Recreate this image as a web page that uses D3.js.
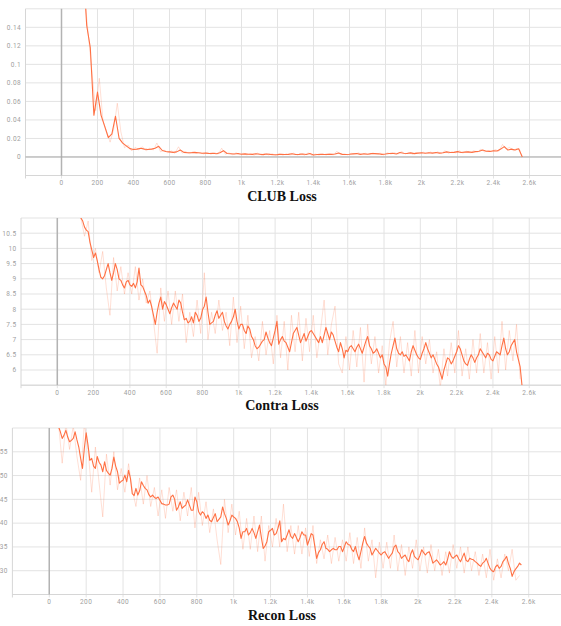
<!DOCTYPE html>
<html><head><meta charset="utf-8">
<script src="https://cdn.jsdelivr.net/npm/d3@7/dist/d3.min.js"></script>
<style>body{margin:0;background:#fff}svg{display:block}</style>
</head><body><svg id="c" width="561" height="626"></svg>
<script>
// ---------- data ----------
const CLUB_STEP = 20;       // clubLoss: steps 0,20,...,2560
const FINE_STEP = 10;       // contraLoss / reconLoss: steps 0,10,...,2560
const RAW_STEP = 20, RAW_OFFSET = 10;   // raw series: steps 10,30,...,2550
const xTickValues = [0,200,400,600,800,1000,1200,1400,1600,1800,2000,2200,2400,2600];
const xTickLabels = ["0","200","400","600","800","1k","1.2k","1.4k","1.6k","1.8k","2k","2.2k","2.4k","2.6k"];

const clubTicks = [-0.02,0,0.02,0.04,0.06,0.08,0.1,0.12,0.14,0.16];
const clubTickLabels = ["","0","0.02","0.04","0.06","0.08","0.1","0.12","0.14",""];
const contraTicks = [5.5,6,6.5,7,7.5,8,8.5,9,9.5,10,10.5,11];
const contraTickLabels = ["","6","6.5","7","7.5","8","8.5","9","9.5","10","10.5",""];
const reconTicks = [25,30,35,40,45,50,55,60];
const reconTickLabels = ["","30","35","40","45","50","55",""];

const clubLoss = [
0.60,0.55,0.48,0.42,0.35,0.28,0.21,0.142,0.118,0.045,
0.07,0.045,0.033,0.021,0.025,0.044,0.020,0.015,0.012,0.009,
0.008,0.0085,0.0095,0.0085,0.008,0.0085,0.0095,0.0115,0.007,0.006,
0.0055,0.005,0.0055,0.0075,0.005,0.0045,0.0045,0.005,0.0045,0.004,
0.0042,0.0038,0.004,0.0035,0.0045,0.0068,0.0038,0.0035,0.0032,0.0038,
0.003,0.0033,0.003,0.0028,0.0035,0.003,0.0025,0.0033,0.0028,0.0024,
0.0025,0.003,0.0026,0.0028,0.0035,0.0026,0.0028,0.0032,0.0027,0.0038,
0.0022,0.0026,0.0028,0.0027,0.003,0.0028,0.0032,0.0042,0.0028,0.0027,
0.003,0.0034,0.0038,0.0028,0.0034,0.003,0.0036,0.0038,0.0034,0.0028,
0.0032,0.0038,0.004,0.0033,0.0048,0.004,0.0038,0.0044,0.0036,0.0042,
0.0045,0.004,0.0046,0.0042,0.0048,0.0042,0.0045,0.0055,0.0048,0.005,
0.0058,0.0048,0.0052,0.0055,0.005,0.0058,0.0062,0.0075,0.0062,0.006,
0.0068,0.0065,0.0085,0.0112,0.0075,0.0085,0.0075,0.0088,0.0];
const clubRaw = [
0.62,0.5,0.46,0.4,0.3,0.26,0.17,0.13,0.09,0.05,
0.085,0.04,0.028,0.016,0.03,0.058,0.027,0.01,0.013,0.0065,
0.0105,0.0075,0.011,0.0065,0.0095,0.0075,0.015,0.0055,0.0075,0.0045,
0.0065,0.004,0.011,0.0042,0.0058,0.0035,0.0055,0.0038,0.005,0.0032,
0.005,0.003,0.0048,0.003,0.0095,0.003,0.0045,0.0025,0.0045,0.0025,
0.004,0.0022,0.0038,0.002,0.0042,0.0022,0.0038,0.0022,0.0035,0.0018,
0.0036,0.002,0.0035,0.0022,0.0042,0.002,0.0036,0.002,0.0045,0.0018,
0.0032,0.002,0.0035,0.0022,0.0036,0.0022,0.0062,0.0022,0.0035,0.0022,
0.004,0.0028,0.0045,0.0025,0.004,0.0025,0.0044,0.0028,0.0042,0.0022,
0.0045,0.0032,0.0046,0.0032,0.006,0.0032,0.005,0.003,0.005,0.0035,
0.0052,0.0035,0.0054,0.0036,0.0056,0.0036,0.0068,0.004,0.0058,0.0044,
0.0068,0.0042,0.0062,0.0044,0.0068,0.0052,0.0085,0.0055,0.007,0.0058,
0.008,0.0062,0.0135,0.0085,0.0105,0.0065,0.0095,0.0065];

const contraLoss = [
13,12.9,12.8,12.6,12.5,12.4,12.3,12.1,12.0,11.9,11.8,11.5,11.3,11.0,10.9,10.7,10.6,10.55,10.2,9.95,
9.7,9.85,9.6,9.3,9.05,9.0,9.1,9.3,9.5,9.2,8.95,9.2,9.5,9.3,9.0,8.95,8.8,8.7,8.9,8.95,
8.8,8.75,8.85,8.7,8.9,9.35,8.8,8.75,8.6,8.45,8.2,8.3,8.08,7.8,7.5,7.9,8.2,8.4,8.0,8.25,
8.15,8.0,7.85,8.05,8.2,8.1,8.0,8.3,8.2,7.9,7.65,7.7,7.55,7.6,7.75,7.55,7.9,7.8,7.6,7.7,
7.98,8.1,8.4,7.9,7.5,7.55,7.6,7.8,7.95,7.7,7.8,7.9,7.6,7.45,7.35,7.5,7.6,7.75,8.0,7.6,
7.35,7.5,7.5,7.3,7.2,7.45,7.35,7.1,7.0,6.8,6.7,6.75,6.85,6.95,7.0,7.25,7.05,6.9,6.8,7.05,
7.3,7.6,6.85,7.0,7.1,6.95,6.9,6.75,6.6,6.9,7.2,7.3,7.4,7.15,6.9,7.05,7.2,6.95,7.1,7.25,
7.3,7.2,7.1,7.0,6.9,7.1,6.9,7.15,7.4,7.2,7.0,7.25,7.15,6.95,6.75,6.6,6.9,6.7,6.4,6.65,
6.6,6.75,6.8,6.7,6.6,6.75,6.85,6.7,6.55,6.75,6.95,7.1,6.8,6.7,6.55,6.6,6.7,6.55,6.4,6.5,
6.2,6.1,5.8,6.2,6.55,6.8,7.05,6.7,6.55,6.5,6.6,6.45,6.5,6.4,6.3,6.6,6.8,6.65,6.5,6.4,
6.35,6.55,6.7,6.9,6.7,6.55,6.4,6.5,6.35,6.2,6.1,5.9,5.7,6.0,6.2,6.4,6.35,6.2,6.3,6.45,
6.6,6.8,6.7,6.5,6.3,6.2,6.15,6.35,6.5,6.4,6.25,6.4,6.5,6.7,6.6,6.5,6.4,6.55,6.5,6.35,
6.3,6.45,6.6,6.55,6.5,6.8,7.05,6.7,6.5,6.6,6.8,6.9,7.0,6.6,6.35,6.1,5.5];
const contraRaw = [
13.2,12.6,12.7,12.0,12.2,11.5,11.0,10.4,10.9,9.6,
10.0,9.2,9.9,8.7,7.8,9.7,8.6,9.4,8.5,9.2,
8.5,9.4,8.3,9.0,8.2,8.6,7.6,6.55,8.7,7.6,
8.6,7.5,8.6,7.6,8.5,6.9,7.9,7.1,8.3,7.2,
9.2,7.0,7.9,7.2,8.3,7.3,7.9,6.8,8.4,6.9,
8.1,6.7,7.8,6.4,7.1,6.3,7.6,6.5,7.3,6.2,
7.8,6.4,7.6,6.0,7.8,6.6,7.9,6.3,7.7,6.6,
7.8,6.4,7.3,8.3,6.5,7.5,8.1,6.2,5.9,7.1,
6.0,7.3,6.1,7.4,5.6,7.5,6.2,7.1,5.9,6.8,
5.5,6.9,7.6,6.1,7.1,5.9,6.9,5.8,7.3,5.9,
7.1,6.2,7.0,5.9,6.6,5.4,6.7,5.8,6.9,5.9,
7.3,5.8,6.7,5.7,7.0,5.9,7.2,5.9,6.9,5.7,
7.1,5.9,7.6,6.0,7.3,6.3,7.5,5.7];

const reconLoss = [
66,64.5,63,62,60.8,60.3,59.2,57.8,58.5,59.5,58.1,57.1,57.4,57.8,59.2,57.5,56.0,53.6,51.5,55.7,
59.0,56.4,53.2,53.6,52.0,51.5,54.0,52.8,52.2,50.8,52.9,51.1,50.5,50.1,51.5,53.9,52.0,50.8,48.4,48.8,
49.0,50.1,48.7,51.1,49.4,46.2,45.8,47.3,45.9,46.8,48.7,47.9,47.3,47.0,46.0,45.5,45.9,45.4,45.2,45.5,
44.8,44.1,44.0,43.8,43.8,44.0,45.5,45.9,45.0,42.7,43.4,44.5,43.1,43.5,43.8,44.9,43.8,42.7,42.7,45.5,
44.5,42.4,41.7,42.4,42.0,41.0,41.7,40.6,40.3,41.2,42.0,40.3,40.8,41.3,43.4,42.0,41.0,39.6,40.5,41.7,
41.3,41.0,40.3,39.0,36.8,38.2,38.2,38.9,37.5,38.0,38.9,38.0,36.8,38.2,39.6,37.0,34.7,35.2,36.1,38.2,
38.5,38.9,37.5,37.8,38.9,40.5,36.1,36.8,36.5,37.5,38.6,37.2,36.8,37.8,37.0,36.1,37.0,38.2,37.5,37.5,
35.4,36.5,37.8,37.5,35.1,32.6,33.8,34.4,35.5,36.1,34.7,34.5,34.0,34.4,34.7,34.4,34.4,35.1,35.1,34.0,
35.0,36.1,35.5,35.4,34.5,34.0,35.1,33.5,32.3,34.0,35.8,37.2,35.8,35.2,34.7,33.3,34.0,34.7,34.2,33.7,
33.3,33.8,34.0,33.3,32.6,33.2,33.7,35.0,35.4,34.0,33.6,32.6,33.0,33.3,32.4,31.9,33.5,34.4,33.0,32.6,
32.3,33.2,34.4,33.8,33.3,33.8,34.0,33.0,31.6,31.9,32.3,31.8,31.2,31.5,31.9,31.2,32.4,34.0,33.0,32.6,
33.0,33.3,32.5,31.9,32.8,33.7,32.2,31.9,32.6,32.4,32.3,31.9,31.6,31.2,30.9,31.6,31.9,32.6,31.5,30.5,
30.0,29.8,30.8,31.2,30.5,30.9,31.9,32.4,33.0,31.5,30.5,28.8,29.8,30.4,30.9,31.6,31.2];
const reconRaw = [
67,62,61,52.6,61,55.5,60.5,54,49,61,
55.5,46.5,56,48.5,41.3,54.5,48,55,47,51.5,
46.5,52.5,47,43.5,49.5,44,50,43.5,47.5,41.5,
47,41,47.5,42.5,47,40.5,46.5,41.5,47.5,39,
46.5,39.5,44.5,38,43,36.5,31.3,45,38,44,
37.5,42.5,34.5,41,34.5,41.5,34,41.5,32,39.5,
35,41,35,44,34,39.5,33.5,39.5,33.5,39,
33,39.5,31.5,36.5,32.5,37.5,31.5,37,32,36.5,
32,38,31.5,37,30.5,39,32,36.5,28.5,36,
30.5,36,30.5,37.5,30,35.5,29,35,30.5,36.5,
30,35,29.5,35.5,30,34.5,29,34,29.5,35.5,
30.5,35,29.5,35,30,34,29,33.5,28.5,34.5,
28,32.5,28.5,33.5,30,34.5,28,29];

// ---------- layout ----------
const W = 561;
const LINE = "#ff7043";
const panels = [
  {title:"CLUB Loss", main:clubLoss, step:CLUB_STEP, raw:clubRaw, yDomain:[-0.02,0.16], ticks:clubTicks, labels:clubTickLabels,
   left:25.5, top:8.8, bottom:175.5, titleY:200.5, zero:true},
  {title:"Contra Loss", main:contraLoss, step:FINE_STEP, raw:contraRaw, yDomain:[5.5,11], ticks:contraTicks, labels:contraTickLabels,
   left:21, top:218, bottom:385.2, titleY:409.5, zero:false},
  {title:"Recon Loss", main:reconLoss, step:FINE_STEP, raw:reconRaw, yDomain:[25,60], ticks:reconTicks, labels:reconTickLabels,
   left:12.4, top:428, bottom:594.5, titleY:619.5, zero:false}
];

const svg = d3.select("#c");
const defs = svg.append("defs");

panels.forEach((p, pi) => {
  const x = d3.scaleLinear().domain([-200, 2775]).range([p.left, W]);
  const y = d3.scaleLinear().domain(p.yDomain).range([p.bottom, p.top]);
  const g = svg.append("g");

  g.selectAll("line.hg").data(p.ticks).join("line")
    .attr("x1", p.left).attr("x2", W)
    .attr("y1", d => y(d)).attr("y2", d => y(d))
    .attr("stroke", "#e3e3e3").attr("stroke-width", 1);
  g.selectAll("line.vg").data(xTickValues).join("line")
    .attr("x1", d => x(d)).attr("x2", d => x(d))
    .attr("y1", p.top).attr("y2", p.bottom + 3)
    .attr("stroke", "#e3e3e3").attr("stroke-width", 1);
  g.append("line").attr("x1", x(-200)).attr("x2", x(-200))
    .attr("y1", p.top).attr("y2", p.bottom + 3)
    .attr("stroke", "#d6d6d6").attr("stroke-width", 1);
  g.append("line").attr("x1", p.left).attr("x2", W)
    .attr("y1", p.bottom).attr("y2", p.bottom)
    .attr("stroke", "#d6d6d6").attr("stroke-width", 1);
  g.append("line").attr("x1", x(0)).attr("x2", x(0))
    .attr("y1", p.top).attr("y2", p.bottom)
    .attr("stroke", "#b3b3b3").attr("stroke-width", 1.5);
  if (p.zero) {
    g.append("line").attr("x1", p.left).attr("x2", W)
      .attr("y1", y(0)).attr("y2", y(0))
      .attr("stroke", "#a8a8a8").attr("stroke-width", 1);
  }

  g.selectAll("text.xl").data(xTickValues).join("text")
    .attr("x", d => x(d)).attr("y", p.bottom + 9.5)
    .attr("text-anchor", "middle")
    .attr("font-family", "Roboto, sans-serif").attr("font-size", 6.5)
    .attr("letter-spacing", 0.4)
    .attr("fill", "#a0a0a0")
    .text((d, i) => xTickLabels[i]);
  g.selectAll("text.yl").data(p.ticks).join("text")
    .attr("x", p.left - 4.5).attr("y", d => y(d) + 2.3)
    .attr("text-anchor", "end")
    .attr("font-family", "Roboto, sans-serif").attr("font-size", 6.5)
    .attr("letter-spacing", 0.4)
    .attr("fill", "#a0a0a0")
    .text((d, i) => p.labels[i]);

  const cid = "clip" + pi;
  defs.append("clipPath").attr("id", cid).append("rect")
    .attr("x", p.left).attr("y", p.top).attr("width", W - p.left).attr("height", p.bottom - p.top);

  const mainPts = p.main.map((v, i) => [i * p.step, v]);
  const rawPts = p.raw.map((v, i) => [i * RAW_STEP + RAW_OFFSET, v]);
  const line = d3.line().x(d => x(d[0])).y(d => y(d[1]));

  const lg = g.append("g").attr("clip-path", `url(#${cid})`);
  lg.append("path").attr("d", line(rawPts))
    .attr("fill", "none").attr("stroke", LINE).attr("stroke-opacity", 0.22).attr("stroke-width", 1);
  lg.append("path").attr("d", line(mainPts))
    .attr("fill", "none").attr("stroke", LINE).attr("stroke-width", 1.1).attr("stroke-linejoin", "round");

  svg.append("text").attr("x", 282).attr("y", p.titleY)
    .attr("text-anchor", "middle")
    .attr("font-family", "'Liberation Serif', 'Times New Roman', serif")
    .attr("font-weight", "bold").attr("font-size", 14)
    .attr("fill", "#111")
    .text(p.title);
});
</script></body></html>
